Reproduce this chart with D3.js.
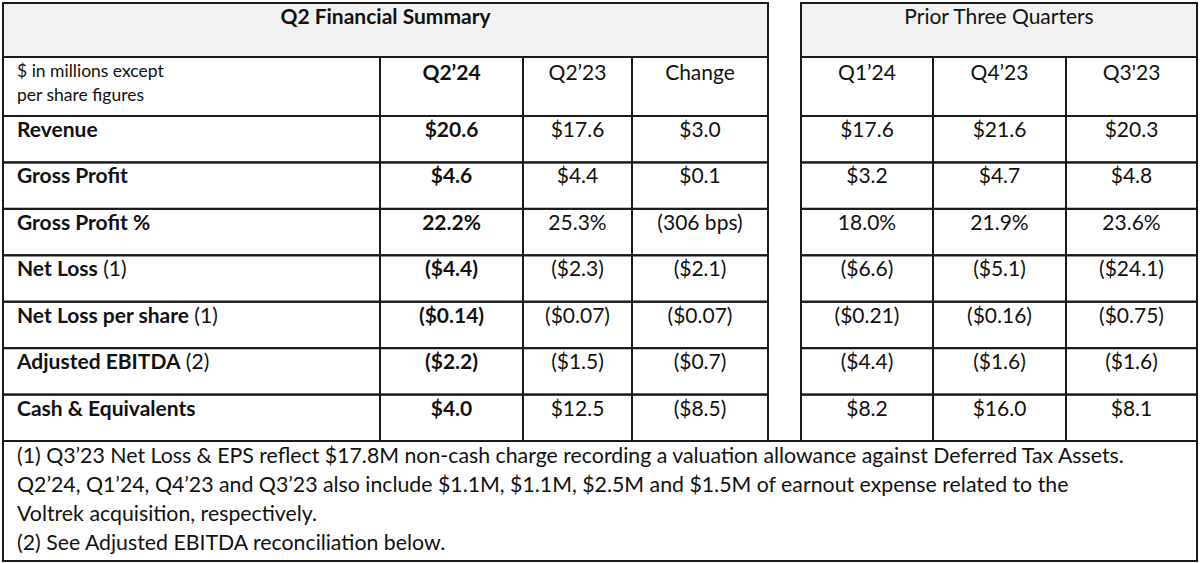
<!DOCTYPE html>
<html><head><meta charset="utf-8">
<script src="https://cdn.jsdelivr.net/npm/d3@7"></script>
<style>body{margin:0;background:#fff}svg{display:block;font-family:Lato,"Open Sans",sans-serif}</style>
</head><body><svg id="c" width="1200" height="563"></svg>
<script>
const rowLabels = ["Revenue", "Gross Profit", "Gross Profit %", "Net Loss", "Net Loss per share", "Adjusted EBITDA", "Cash & Equivalents"];
const rowNotes = ["", "", "", " (1)", " (1)", " (2)", ""];
const mainCols = ["Q2\u201924", "Q2\u201923", "Change"];
const priorCols = ["Q1\u201924", "Q4\u201923", "Q3'23"];
const q224 = ["$20.6", "$4.6", "22.2%", "($4.4)", "($0.14)", "($2.2)", "$4.0"];
const q223 = ["$17.6", "$4.4", "25.3%", "($2.3)", "($0.07)", "($1.5)", "$12.5"];
const change = ["$3.0", "$0.1", "(306 bps)", "($2.1)", "($0.07)", "($0.7)", "($8.5)"];
const q124 = ["$17.6", "$3.2", "18.0%", "($6.6)", "($0.21)", "($4.4)", "$8.2"];
const q423 = ["$21.6", "$4.7", "21.9%", "($5.1)", "($0.16)", "($1.6)", "$16.0"];
const q323 = ["$20.3", "$4.8", "23.6%", "($24.1)", "($0.75)", "($1.6)", "$8.1"];
const footnotes = [
  "(1) Q3\u201923 Net Loss & EPS reflect $17.8M non-cash charge recording a valuation allowance against Deferred Tax Assets.",
  "Q2\u201924, Q1\u201924, Q4\u201923 and Q3\u201923 also include $1.1M, $1.1M, $2.5M and $1.5M of earnout expense related to the",
  "Voltrek acquisition, respectively.",
  "(2) See Adjusted EBITDA reconciliation below."
];

const svg = d3.select("#c");
const y = d3.scaleLinear().domain([0, 7]).range([116, 441]);
const leftX = [3, 380, 523, 632, 768];
const rightX = [801, 933, 1066, 1197];
const stroke = "#1a1a1a", fs = 21;

function box(x0, x1, y0, y1, fill) {
  svg.append("rect").attr("x", x0).attr("y", y0).attr("width", x1 - x0).attr("height", y1 - y0)
    .attr("fill", fill || "none").attr("stroke", stroke).attr("stroke-width", 2);
}
function txt(x, yy, s, anchor, bold, size) {
  return svg.append("text").attr("x", x).attr("y", yy).attr("text-anchor", anchor || "middle")
    .attr("font-size", size || fs).attr("font-weight", bold ? "bold" : "normal").attr("fill", "#111").text(s);
}

// title bands
box(leftX[0], leftX[4], 3, 57, "#f2f2f2");
box(rightX[0], rightX[3], 3, 57, "#f2f2f2");
txt((leftX[0] + leftX[4]) / 2, 24, "Q2 Financial Summary", "middle", true);
txt((rightX[0] + rightX[3]) / 2, 24, "Prior Three Quarters");

// grid cells
for (let r = -1; r < 7; r++) {
  const y0 = r < 0 ? 57 : y(r), y1 = y(r + 1);
  for (let c = 0; c < 4; c++) box(leftX[c], leftX[c + 1], y0, y1);
  for (let c = 0; c < 3; c++) box(rightX[c], rightX[c + 1], y0, y1);
}
// footnote box
box(3, 1197, 441, 561);

// header row
txt(17, 77, "$ in millions except", "start", false, 17.5);
txt(17, 101, "per share figures", "start", false, 17.5);
mainCols.forEach((s, i) => txt((leftX[i + 1] + leftX[i + 2]) / 2, 80, s, "middle", i === 0));
priorCols.forEach((s, i) => txt((rightX[i] + rightX[i + 1]) / 2, 80, s));

const mid = (i) => y(i) + 21;
rowLabels.forEach((s, i) => {
  const t = txt(17, mid(i), null, "start");
  t.append("tspan").attr("font-weight", "bold").text(s);
  t.append("tspan").text(rowNotes[i]);
});
[q224, q223, change].forEach((col, c) => col.forEach((v, i) =>
  txt((leftX[c + 1] + leftX[c + 2]) / 2, mid(i), v, "middle", c === 0)));
[q124, q423, q323].forEach((col, c) => col.forEach((v, i) =>
  txt((rightX[c] + rightX[c + 1]) / 2, mid(i), v)));

footnotes.forEach((s, i) => txt(17, 463 + i * 29, s, "start", false, 21.3));
</script></body></html>
